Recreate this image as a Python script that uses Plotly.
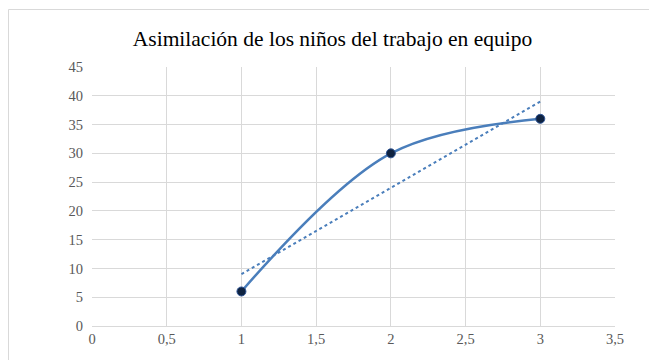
import numpy as np
import plotly.graph_objects as go

x_vals = [1, 2, 3]
y_vals = [6, 30, 36]
title_text = "Asimilación de los niños del trabajo en equipo"

slope, intercept = np.polyfit(x_vals, y_vals, 1)
trend_x = [min(x_vals), max(x_vals)]
trend_y = [slope * v + intercept for v in trend_x]

fig = go.Figure()
fig.add_trace(go.Scatter(x=trend_x, y=trend_y, mode="lines",
                         line=dict(color="#4a7ebb", width=2, dash="dot"),
                         showlegend=False, hoverinfo="skip"))
fig.add_trace(go.Scatter(x=x_vals, y=y_vals, mode="lines+markers",
                         line=dict(color="#4a7ebb", width=2.5, shape="spline", smoothing=1),
                         marker=dict(size=9, color="#0f2341", line=dict(color="#2f5597", width=1)),
                         showlegend=False))

W, H = 649, 352
L, R, T, B = 84, 42, 59, 34
pw, ph = W - L - R, H - T - B

font_family = "'Times New Roman', 'Liberation Serif', serif"
fig.update_layout(
    width=W, height=H,
    margin=dict(l=L, r=R, t=T, b=B),
    paper_bgcolor="white", plot_bgcolor="white",
    separators=",.",
    title=dict(text=title_text, x=0.5, xanchor="center", y=1 - 30 / H, yanchor="middle",
               font=dict(family=font_family, size=21.5, color="#000000")),
    font=dict(family=font_family, size=14.5, color="#595959"),
    xaxis=dict(range=[0, 3.5], dtick=0.5, tick0=0, showgrid=True, gridcolor="#d9d9d9",
               gridwidth=1, zeroline=False, showline=True, linecolor="#d9d9d9",
               ticks="", tickfont=dict(family=font_family, size=14.5, color="#595959")),
    yaxis=dict(range=[0, 45], dtick=5, tick0=0, showgrid=True, gridcolor="#d9d9d9",
               gridwidth=1, zeroline=False, showline=False, ticks="",
               tickfont=dict(family=font_family, size=14.5, color="#595959"), ticklabelstandoff=8),
    shapes=[dict(type="rect", xref="paper", yref="paper",
                 x0=-(L - 0.5) / pw, x1=(W - L + 5) / pw, y0=-(B + 10) / ph, y1=(H - 1.5 - B) / ph,
                 line=dict(color="#d9d9d9", width=1), fillcolor="rgba(0,0,0,0)", layer="below")],
)
fig.write_html("out.html")
